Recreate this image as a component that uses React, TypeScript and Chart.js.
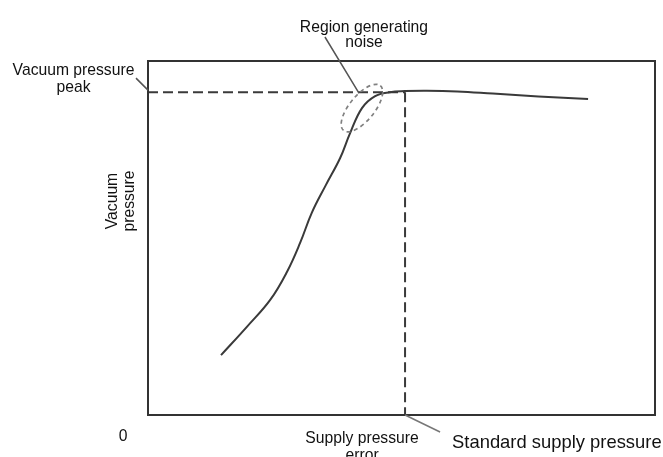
import React, { useEffect, useRef } from "react";
import { Chart, registerables } from "chart.js";

Chart.register(...registerables);

// Curve: supply pressure (x, % of axis) vs vacuum pressure (y, % of axis)
const supplyPressure = [14.4, 19.5, 24.1, 27.4, 30.0, 32.3, 35.1, 37.9, 39.8, 42.2, 44.8, 47.7, 50.7, 55.0, 61.0, 68.0, 77.0, 86.8];
const vacuumPressure = [16.9, 24.9, 32.5, 40.4, 48.6, 57.1, 65.0, 72.6, 79.4, 86.7, 90.1, 91.2, 91.5, 91.6, 91.4, 90.8, 90.0, 89.3];

const peakVacuum = 91.2;
const standardSupply = 50.7;
const noiseRegion = { x: 42.2, y: 86.7 };

const yTitle = ["Vacuum", "pressure"];
const peakLabel = ["Vacuum pressure", "peak"];
const noiseLabel = ["Region generating", "noise"];
const errorLabel = ["Supply pressure", "error"];
const standardLabel = "Standard supply pressure";
const originLabel = "0";

const FONT = "'Liberation Sans', Arial, sans-serif";

export default function App() {
  const ref = useRef<HTMLCanvasElement>(null);

  useEffect(() => {
    const overlay = {
      id: "overlay",
      afterDatasetsDraw(chart: any) {
        const ctx = chart.ctx as CanvasRenderingContext2D;
        const { left, top, right, bottom } = chart.chartArea;
        const xs = chart.scales.x;
        const ys = chart.scales.y;
        ctx.save();

        // frame
        ctx.strokeStyle = "#333";
        ctx.lineWidth = 2;
        ctx.setLineDash([]);
        ctx.strokeRect(left, top, right - left, bottom - top);

        // noise ellipse
        const cx = xs.getPixelForValue(noiseRegion.x);
        const cy = ys.getPixelForValue(noiseRegion.y);
        ctx.strokeStyle = "#808080";
        ctx.lineWidth = 1.7;
        ctx.setLineDash([4, 3.5]);
        ctx.beginPath();
        ctx.ellipse(cx, cy, 29, 12.5, (-50.7 * Math.PI) / 180, 0, Math.PI * 2);
        ctx.stroke();
        ctx.setLineDash([]);

        // leader lines
        const py = ys.getPixelForValue(peakVacuum);
        const sx = xs.getPixelForValue(standardSupply);
        ctx.strokeStyle = "#555";
        ctx.lineWidth = 1.5;
        ctx.beginPath();
        ctx.moveTo(left - 12, py - 14);
        ctx.lineTo(left, py - 2);
        ctx.moveTo(cx - 37, top - 24);
        ctx.lineTo(cx - 3, py + 1);
        ctx.stroke();
        ctx.strokeStyle = "#777";
        ctx.beginPath();
        ctx.moveTo(sx, bottom);
        ctx.lineTo(sx + 35, bottom + 17);
        ctx.stroke();

        // texts
        ctx.fillStyle = "#111";
        ctx.textBaseline = "alphabetic";
        ctx.font = `15.7px ${FONT}`;
        ctx.textAlign = "center";
        ctx.fillText(peakLabel[0], 73.5, py - 17);
        ctx.fillText(peakLabel[1], 73.5, py);
        ctx.fillText(noiseLabel[0], cx + 2, top - 29);
        ctx.fillText(noiseLabel[1], cx + 2, top - 14);
        ctx.fillText(errorLabel[0], sx - 43, bottom + 28);
        ctx.fillText(errorLabel[1], sx - 43, bottom + 45);
        ctx.fillText(originLabel, left - 25, bottom + 26);

        ctx.textAlign = "left";
        ctx.font = `18.4px ${FONT}`;
        ctx.fillText(standardLabel, sx + 47, bottom + 33);

        // rotated y title
        ctx.font = `15.7px ${FONT}`;
        ctx.textAlign = "center";
        ctx.translate(left - 31, 201);
        ctx.rotate(-Math.PI / 2);
        ctx.fillText(yTitle[0], 0, 0);
        ctx.fillText(yTitle[1], 0, 17);
        ctx.restore();
      },
    };

    const chart = new Chart(ref.current as HTMLCanvasElement, {
      type: "line",
      data: {
        datasets: [
          {
            data: supplyPressure.map((x, i) => ({ x, y: vacuumPressure[i] })),
            borderColor: "#3a3a3a",
            borderWidth: 2,
            pointRadius: 0,
            tension: 0.4,
            fill: false,
          },
          {
            data: [
              { x: 0, y: peakVacuum },
              { x: standardSupply, y: peakVacuum },
            ],
            borderColor: "#3a3a3a",
            borderWidth: 2,
            borderDash: [10, 5],
            pointRadius: 0,
            fill: false,
          },
          {
            data: [
              { x: standardSupply, y: peakVacuum },
              { x: standardSupply, y: 0 },
            ],
            borderColor: "#3a3a3a",
            borderWidth: 2,
            borderDash: [10, 5],
            pointRadius: 0,
            fill: false,
          },
        ],
      },
      options: {
        responsive: false,
        animation: false,
        events: [],
        layout: { padding: { left: 148, top: 61, right: 8, bottom: 42 } },
        plugins: { legend: { display: false }, tooltip: { enabled: false }, title: { display: false } },
        scales: {
          x: { type: "linear", display: false, min: 0, max: 100 },
          y: { type: "linear", display: false, min: 0, max: 100 },
        },
      },
      plugins: [overlay],
    } as any);
    return () => chart.destroy();
  }, []);

  return (
    <div style={{ position: "absolute", left: 0, top: 0, width: 663, height: 457, background: "#fff" }}>
      <canvas ref={ref} width={663} height={457} style={{ width: 663, height: 457, display: "block" }} />
    </div>
  );
}
